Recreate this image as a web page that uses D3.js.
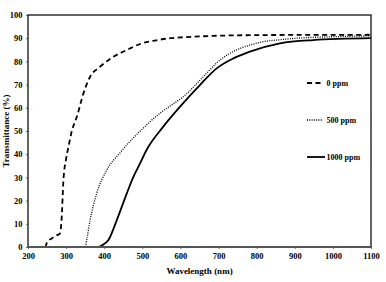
<!DOCTYPE html>
<html>
<head>
<meta charset="utf-8">
<script src="https://cdn.jsdelivr.net/npm/d3@7"></script>
<style>
  body { margin: 0; background: #fff; }
  svg text { font-family: "Liberation Serif", "Times New Roman", serif; font-weight: bold; fill: #000; }
</style>
</head>
<body>
<svg></svg>
<script>
const width = 386;
const height = 282;
const margin = {top: 15, right: 15, bottom: 35, left: 28};

// wavelength (nm) and transmittance (%)
const wl0 = [200, 240, 245, 250, 262, 275, 284, 288, 293, 300, 306, 315, 328, 345, 363, 389, 424, 459, 494, 540, 573, 630, 685, 782, 900, 1000, 1100];
const t0 = [0, 0, 0, 2, 3.7, 5, 5.9, 11.6, 28.9, 38, 43, 50, 56, 66, 73.4, 77.7, 82, 84.9, 87.5, 89.2, 90, 90.6, 91, 91.3, 91.4, 91.4, 91.5];

const wl500 = [200, 350, 355, 363, 380, 406, 441, 476, 498, 520, 546, 616, 660, 704, 748, 782, 817, 860, 905, 992, 1100];
const t500 = [0, 0, 4, 11.6, 23, 33, 40.5, 47, 50.5, 54, 57.6, 66, 73.4, 80.6, 85, 87, 88.5, 89.3, 90, 90.6, 91];

const wl1000 = [200, 384, 395, 411, 433, 459, 476, 494, 511, 555, 599, 651, 695, 739, 782, 861, 948, 1100];
const t1000 = [0, 0, 0.8, 3, 11.6, 23, 30, 36, 41.8, 51.9, 60.5, 69.8, 77, 81.3, 84.2, 87.8, 89.2, 90];

const seriesNames = ['0 ppm', '500 ppm', '1000 ppm'];
const xTicks = [200, 300, 400, 500, 600, 700, 800, 900, 1000, 1100];
const yTicks = [0, 10, 20, 30, 40, 50, 60, 70, 80, 90, 100];

const series = [
    {name: seriesNames[0], wl: wl0, t: t0, dash: '5,3.5', w: 1.8},
    {name: seriesNames[1], wl: wl500, t: t500, dash: '1,1.3', w: 1.3},
    {name: seriesNames[2], wl: wl1000, t: t1000, dash: null, w: 1.8}
];

const svg = d3.select('svg')
    .attr('width', width)
    .attr('height', height);

const x = d3.scaleLinear().domain([200, 1100]).range([margin.left, width - margin.right]);
const y = d3.scaleLinear().domain([0, 100]).range([height - margin.bottom, margin.top]);

const line = d3.line()
    .x(d => x(d[0]))
    .y(d => y(d[1]))
    .curve(d3.curveMonotoneX);

// axes
const xAxis = svg.append('g')
    .attr('transform', `translate(0,${y(0)})`)
    .call(d3.axisBottom(x).tickValues(xTicks).tickFormat(d3.format('d')).tickSize(2).tickPadding(4));
xAxis.select('.domain').remove();
xAxis.selectAll('line').attr('stroke', '#777');
xAxis.selectAll('text').style('font-size', '8.5px').attr('fill', '#000');

const yAxis = svg.append('g')
    .attr('transform', `translate(${x(200)},0)`)
    .call(d3.axisLeft(y).tickValues(yTicks).tickFormat(d3.format('d')).tickSize(2).tickPadding(3.5));
yAxis.select('.domain').remove();
yAxis.selectAll('line').attr('stroke', '#777');
yAxis.selectAll('text').style('font-size', '8.5px').attr('fill', '#000');

// curves
series.forEach(s => {
    svg.append('path')
        .datum(s.wl.map((v, i) => [v, s.t[i]]))
        .attr('d', line)
        .attr('fill', 'none')
        .attr('stroke', '#000')
        .attr('stroke-width', s.w)
        .attr('stroke-dasharray', s.dash);
});

// frame
svg.append('rect')
    .attr('x', x(200))
    .attr('y', y(100))
    .attr('width', x(1100) - x(200))
    .attr('height', y(0) - y(100))
    .attr('fill', 'none')
    .attr('stroke', '#222')
    .attr('stroke-width', 1.4);
svg.append('line')
    .attr('x1', x(200)).attr('x2', x(1100))
    .attr('y1', y(0)).attr('y2', y(0))
    .attr('stroke', '#555')
    .attr('stroke-width', 2);

// axis titles
svg.append('text')
    .attr('x', (x(200) + x(1100)) / 2)
    .attr('y', 274)
    .attr('text-anchor', 'middle')
    .style('font-size', '9px')
    .text('Wavelength (nm)');

svg.append('text')
    .attr('transform', `translate(9,${(y(0) + y(100)) / 2}) rotate(-90)`)
    .attr('text-anchor', 'middle')
    .style('font-size', '9px')
    .text('Transmittance (%)');

// legend
const legendY = [83, 120, 157];
const legend = svg.selectAll('g.legend')
    .data(series)
    .enter().append('g')
    .attr('class', 'legend')
    .attr('transform', (d, i) => `translate(307,${legendY[i]})`);

legend.append('line')
    .attr('x1', 0).attr('x2', d => d.dash ? 16 : 18)
    .attr('y1', 0).attr('y2', 0)
    .attr('stroke', '#000')
    .attr('stroke-width', d => d.w)
    .attr('stroke-dasharray', d => d.dash);

legend.append('text')
    .attr('x', 19.5)
    .attr('y', 3)
    .style('font-size', '8px')
    .text(d => d.name);
</script>
</body>
</html>
